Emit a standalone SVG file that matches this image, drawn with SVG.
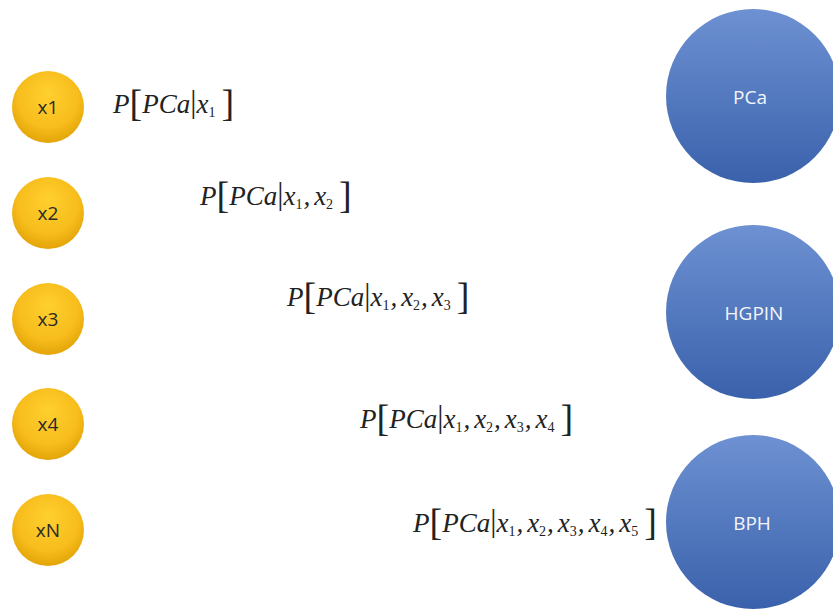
<svg xmlns="http://www.w3.org/2000/svg" width="833" height="609" viewBox="0 0 833 609">
<defs>
<radialGradient id="gold" cx="50%" cy="40%" r="60%" fx="50%" fy="30%">
<stop offset="0" stop-color="#ffd030"/>
<stop offset="0.7" stop-color="#f7bd1c"/>
<stop offset="1" stop-color="#e3a408"/>
</radialGradient>
<linearGradient id="blue" x1="0" y1="0" x2="0" y2="1">
<stop offset="0" stop-color="#6d91d2"/>
<stop offset="1" stop-color="#3a61ab"/>
</linearGradient>
<style>
.y{fill:url(#gold)}
.b{fill:url(#blue)}
.yl{font-family:"Open Sans","Liberation Sans",sans-serif;font-size:19px;fill:#2a2a2a;text-anchor:middle;dominant-baseline:central}
.bl{font-family:"Open Sans","Liberation Sans",sans-serif;font-size:19px;fill:#f4f6fb;text-anchor:middle;dominant-baseline:central}
.f{font-family:"Liberation Serif","Times New Roman",serif;font-size:27px;font-style:italic;fill:#222}
.br{font-style:normal;font-size:38px;font-weight:normal}
.bar{font-style:normal;font-size:31px}
.s{font-size:14px;font-style:normal}
</style>
</defs>
<g id="x1"><circle class="y" cx="48" cy="107" r="36"/><text class="yl" x="48" y="107">x1</text></g>
<g id="x2"><circle class="y" cx="48" cy="213" r="36"/><text class="yl" x="48" y="213">x2</text></g>
<g id="x3"><circle class="y" cx="48" cy="319" r="36"/><text class="yl" x="48" y="319">x3</text></g>
<g id="x4"><circle class="y" cx="48" cy="424" r="36"/><text class="yl" x="48" y="424">x4</text></g>
<g id="xN"><circle class="y" cx="48" cy="530" r="36"/><text class="yl" x="48" y="530">xN</text></g>
<g id="PCa"><circle class="b" cx="753" cy="96" r="87"/><text class="bl" x="750" y="97">PCa</text></g>
<g id="HGPIN"><circle class="b" cx="753" cy="312" r="87"/><text class="bl" x="754" y="313">HGPIN</text></g>
<g id="BPH"><circle class="b" cx="753" cy="522" r="87"/><text class="bl" x="752" y="523">BPH</text></g>
<g id="connectors"></g>
<g id="formulas">
<text class="f" x="113" y="113">P<tspan class="br" dy="3">[</tspan><tspan dy="-3">PCa</tspan><tspan class="bar" dy="-1">|</tspan><tspan dy="1">x</tspan><tspan class="s" dy="4">1</tspan><tspan class="br" dx="6" dy="-1">]</tspan></text>
<text class="f" x="200" y="205">P<tspan class="br" dy="3">[</tspan><tspan dy="-3">PCa</tspan><tspan class="bar" dy="-1">|</tspan><tspan dy="1">x</tspan><tspan class="s" dy="4">1</tspan><tspan dx="1" dy="-4">,</tspan><tspan dx="4">x</tspan><tspan class="s" dy="4">2</tspan><tspan class="br" dx="6" dy="-1">]</tspan></text>
<text class="f" x="287" y="306">P<tspan class="br" dy="3">[</tspan><tspan dy="-3">PCa</tspan><tspan class="bar" dy="-1">|</tspan><tspan dy="1">x</tspan><tspan class="s" dy="4">1</tspan><tspan dx="1" dy="-4">,</tspan><tspan dx="4">x</tspan><tspan class="s" dy="4">2</tspan><tspan dx="1" dy="-4">,</tspan><tspan dx="4">x</tspan><tspan class="s" dy="4">3</tspan><tspan class="br" dx="6" dy="-1">]</tspan></text>
<text class="f" x="360" y="428">P<tspan class="br" dy="3">[</tspan><tspan dy="-3">PCa</tspan><tspan class="bar" dy="-1">|</tspan><tspan dy="1">x</tspan><tspan class="s" dy="4">1</tspan><tspan dx="1" dy="-4">,</tspan><tspan dx="4">x</tspan><tspan class="s" dy="4">2</tspan><tspan dx="1" dy="-4">,</tspan><tspan dx="4">x</tspan><tspan class="s" dy="4">3</tspan><tspan dx="1" dy="-4">,</tspan><tspan dx="4">x</tspan><tspan class="s" dy="4">4</tspan><tspan class="br" dx="6" dy="-1">]</tspan></text>
<text class="f" x="413" y="532">P<tspan class="br" dy="3">[</tspan><tspan dy="-3">PCa</tspan><tspan class="bar" dy="-1">|</tspan><tspan dy="1">x</tspan><tspan class="s" dy="4">1</tspan><tspan dx="1" dy="-4">,</tspan><tspan dx="4">x</tspan><tspan class="s" dy="4">2</tspan><tspan dx="1" dy="-4">,</tspan><tspan dx="4">x</tspan><tspan class="s" dy="4">3</tspan><tspan dx="1" dy="-4">,</tspan><tspan dx="4">x</tspan><tspan class="s" dy="4">4</tspan><tspan dx="1" dy="-4">,</tspan><tspan dx="4">x</tspan><tspan class="s" dy="4">5</tspan><tspan class="br" dx="6" dy="-1">]</tspan></text>
</g>
</svg>
